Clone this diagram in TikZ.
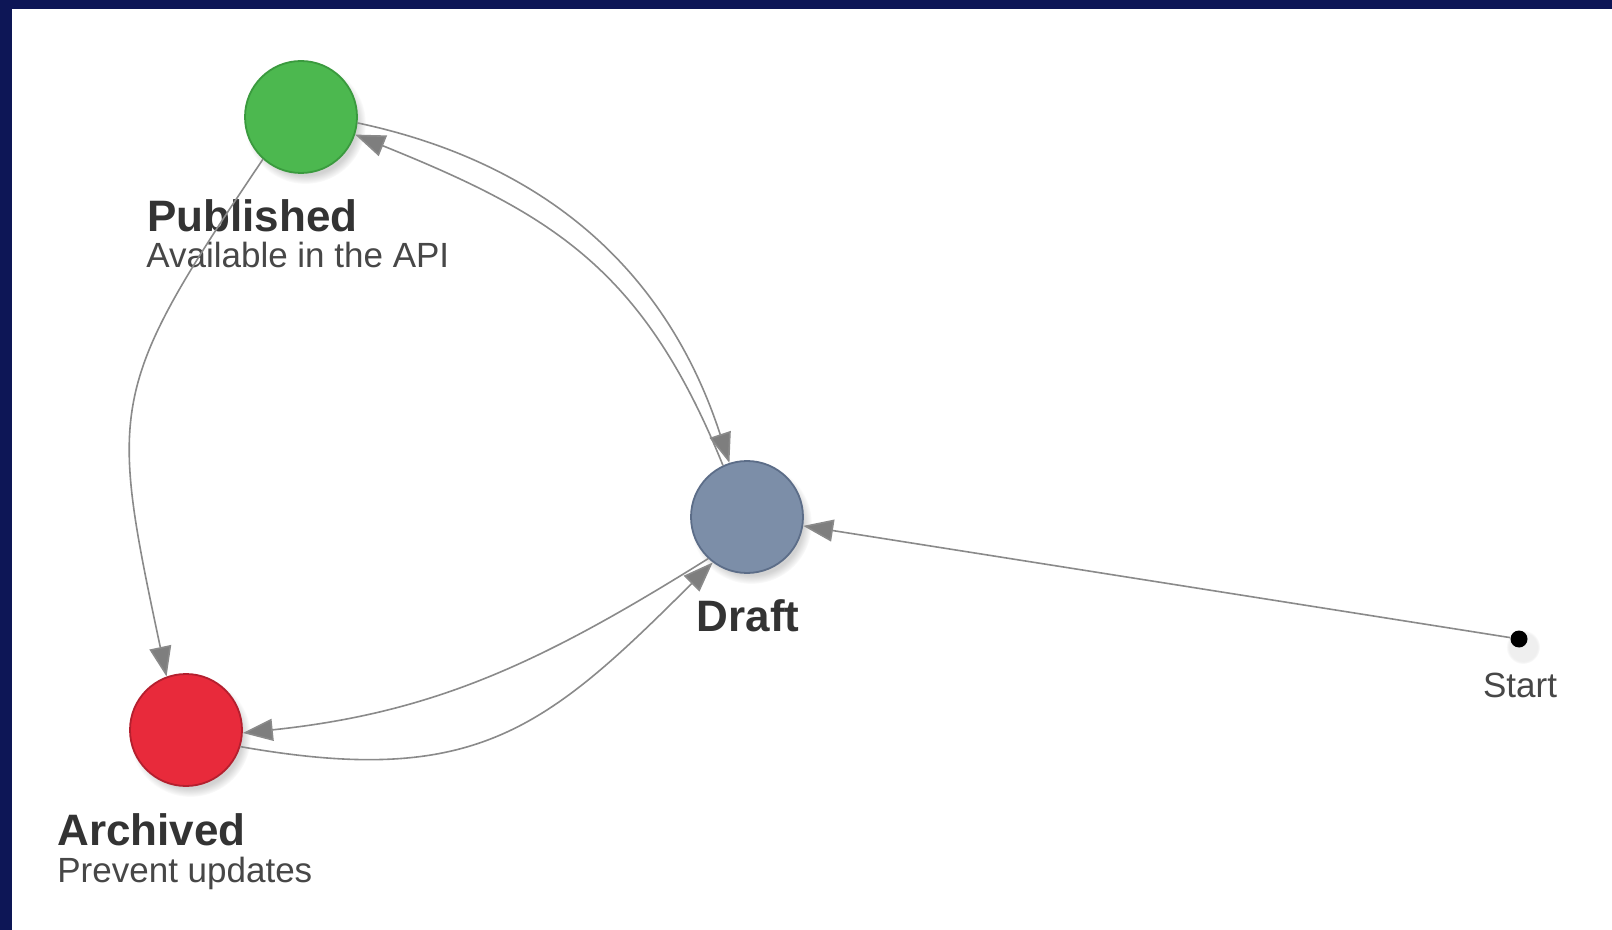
\documentclass[tikz,border=0pt]{standalone}
\usepackage{fontspec}
\setmainfont{Liberation Sans}
\usetikzlibrary{arrows.meta, shadows}

\definecolor{framenavy}{HTML}{0D1656}
\definecolor{pubgreen}{HTML}{4CB84F}
\definecolor{pubgreenline}{HTML}{3A9A3E}
\definecolor{draftblue}{HTML}{7C8EA8}
\definecolor{draftblueline}{HTML}{5C6D88}
\definecolor{archred}{HTML}{E82A3B}
\definecolor{archredline}{HTML}{B41F2E}
\definecolor{edgegray}{HTML}{8A8A8A}
\definecolor{tipgray}{HTML}{7E7E7E}
\definecolor{labeldark}{HTML}{333333}
\definecolor{labelgray}{HTML}{474747}

\begin{document}
\begin{tikzpicture}[x=0.5pt, y=-0.5pt,
  state/.style={circle, minimum size=56pt, inner sep=0pt, line width=0.9pt,
    circular drop shadow={shadow xshift=2pt, shadow yshift=-3pt, shadow scale=1.08, opacity=0.35}},
  title/.style={anchor=base west, inner sep=0pt, text=labeldark, font=\fontsize{22}{26}\selectfont\bfseries},
  note/.style={anchor=base west, inner sep=0pt, text=labelgray, font=\fontsize{17.5}{21}\selectfont},
  trans/.style={draw=edgegray, line width=0.8pt, -{Triangle[length=15pt, width=11pt, fill=tipgray]}}]

\useasboundingbox (0,0) rectangle (1612,930);
\fill[white] (0,0) rectangle (1612,930);
\fill[framenavy] (0,0) rectangle (1612,9);
\fill[framenavy] (0,0) rectangle (12,930);

\node[state, fill=pubgreen, draw=pubgreenline] (published) at (301,117) {};
\node[state, fill=draftblue, draw=draftblueline] (draft) at (747,517) {};
\node[state, fill=archred, draw=archredline] (archived) at (186,730) {};
\node[circle, fill=black, minimum size=8.5pt, inner sep=0pt,
  circular drop shadow={shadow xshift=1pt, shadow yshift=-2pt, shadow scale=2, opacity=0.12}] (start) at (1519,639) {};

\node[title] (pubname) at (147,232) {Published};
\node[note] (pubnote) at (146,268) {Available in the API};
\node[title, anchor=base] (draftname) at (748,631) {Draft};
\node[title] (archname) at (57,845) {Archived};
\node[note] (archnote) at (57,882) {Prevent updates};
\node[note, anchor=base] (startname) at (1520,697) {Start};

\draw[trans] (published.-6) to[out=-12, in=108] (draft.108);
\draw[trans] (draft.115) to[out=112, in=-22, looseness=1.1] (published.-18);
\draw[trans] (published.228) to[out=236, in=102, looseness=1.35] (archived.110);
\draw[trans] (draft.227) to[out=212, in=6] (archived.-3);
\draw[trans] (archived.-17) to[out=-10, in=225, looseness=1.2] (draft.233);
\draw[trans] (start) -- (draft);
\end{tikzpicture}
\end{document}
